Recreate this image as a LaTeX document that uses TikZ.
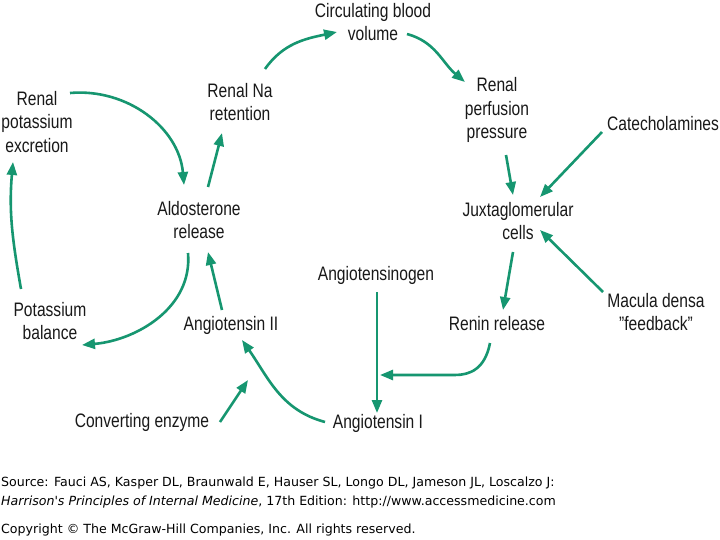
\documentclass[tikz,border=0pt]{standalone}
\usepackage{fontspec}
\setmainfont{Liberation Sans}[FakeStretch=0.8]
\newfontfamily\footfont{DejaVu Sans}
\usetikzlibrary{arrows.meta}
\definecolor{arrgreen}{RGB}{22,150,112}
\tikzset{
  lbl/.style={align=center,inner sep=0pt,font=\fontsize{19.5}{23.5}\selectfont,text=black!90},
  arr/.style={draw=arrgreen,line width=2.6pt,-{Triangle[length=13pt,width=10pt]}},
  foot/.style={anchor=west,inner sep=0pt,font=\footfont\fontsize{12.6}{14}\selectfont}
}
\begin{document}
\begin{tikzpicture}[x=1pt,y=1pt]
\useasboundingbox (0,0) rectangle (720,-540);
\fill[white] (0,0) rectangle (720,-540);
% nodes
\node[lbl] (circ) at (373,-22) {Circulating blood\\volume};
\node[lbl] (rna) at (240,-102) {Renal Na\\retention};
\node[lbl] (rpp) at (497,-110) {Renal\\perfusion\\pressure};
\node[lbl] (cat) at (663,-124) {Catecholamines};
\node[lbl] (jux) at (518,-221) {Juxtaglomerular\\cells};
\node[lbl] (mac) at (656,-312) {Macula densa\\"feedback"};
\node[lbl] (ren) at (497,-324) {Renin release};
\node[lbl] (agen) at (376,-275) {Angiotensinogen};
\node[lbl] (a1) at (378,-423) {Angiotensin I};
\node[lbl] (a2) at (231,-325) {Angiotensin II};
\node[lbl] (ce) at (142,-422) {Converting enzyme};
\node[lbl] (ald) at (199,-220) {Aldosterone\\release};
\node[lbl] (renK) at (37,-122) {Renal\\potassium\\excretion};
\node[lbl] (kbal) at (50,-321) {Potassium\\balance};
\coordinate (join) at (380,-375);
\coordinate (cetip) at (248,-380);
% connectors
\draw[arr] ([shift={(33,29)}]renK.center) to[out=5,in=95] ([shift={(-15,35)}]ald.center);
\draw[arr] ([shift={(9,33)}]ald.center) -- ([shift={(-18,-31)}]rna.center);
\draw[arr] ([shift={(25,33)}]rna.center) to[out=55,in=192] ([shift={(-36,-10)}]circ.center);
\draw[arr] ([shift={(34,-12)}]circ.center) to[out=-15,in=140] ([shift={(-32,28)}]rpp.center);
\draw[arr] ([shift={(9,-45)}]rpp.center) -- ([shift={(-5,26)}]jux.center);
\draw[arr] ([shift={(-61,-8)}]cat.center) -- ([shift={(22,24)}]jux.center);
\draw[arr] ([shift={(-53,20)}]mac.center) -- ([shift={(22,-9)}]jux.center);
\draw[arr] ([shift={(-5,-31)}]jux.center) -- ([shift={(6,14)}]ren.center);
\draw[arr] ([shift={(-7,-19)}]ren.center) .. controls +(-5,-26) and +(15,0) .. (455,-375) -- (join);
\draw[arr] ([shift={(1,-17)}]agen.center) -- ([shift={(-1,10)}]a1.center);
\draw[arr] ([shift={(-53,1)}]a1.center) to[out=165,in=-55] ([shift={(11,-15)}]a2.center);
\draw[arr] ([shift={(78,0)}]ce.center) -- (cetip);
\draw[arr] ([shift={(-9,15)}]a2.center) -- ([shift={(9,-32)}]ald.center);
\draw[arr] ([shift={(-11,-33)}]ald.center) to[out=-85,in=5] ([shift={(32,-24)}]kbal.center);
\draw[arr] ([shift={(-29,32)}]kbal.center) to[out=100,in=-95] ([shift={(-24,-40)}]renK.center);
% footer
\node[foot] (src) at (1,-483) {Source: Fauci AS, Kasper DL, Braunwald E, Hauser SL, Longo DL, Jameson JL, Loscalzo J:};
\node[foot] (src2) at (1,-502) {\textit{Harrison's Principles of Internal Medicine}, 17th Edition: http://www.accessmedicine.com};
\node[foot] (copy) at (1,-530) {Copyright © The McGraw-Hill Companies, Inc. All rights reserved.};
\end{tikzpicture}
\end{document}
